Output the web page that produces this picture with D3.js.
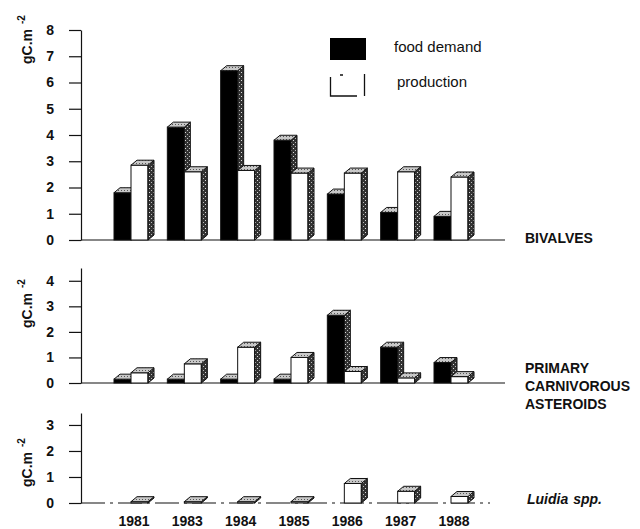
<!DOCTYPE html>
<html lang="en">
<head>
<meta charset="UTF-8" />
<title>Food demand and production</title>
<style>
  body { margin: 0; background: #fff; }
  svg text { font-family: "Liberation Sans", Arial, sans-serif; fill: #111; }
  .axis text { font-size: 14px; font-weight: bold; }
  .axis path, .axis line { stroke: #111; stroke-width: 1.2; }
</style>
</head>
<body>
<div class="chart"></div>
<script src="https://d3js.org/d3.v7.min.js"></script>
<script>
// data (gC.m-2)
const years = ['1981', '1983', '1984', '1985', '1986', '1987', '1988']
const bivalvesDemand = [1.8, 4.3, 6.45, 3.8, 1.75, 1.05, 0.9]
const bivalvesProduction = [2.85, 2.6, 2.65, 2.55, 2.55, 2.6, 2.4]
const asteroidsDemand = [0.15, 0.15, 0.15, 0.15, 2.65, 1.4, 0.8]
const asteroidsProduction = [0.4, 0.75, 1.4, 1.0, 0.45, 0.2, 0.25]
const luidiaDemand = [0, 0, 0, 0, 0, 0, 0]
const luidiaProduction = [0.05, 0.05, 0.05, 0.05, 0.75, 0.45, 0.25]
const bivalvesTicks = [0, 1, 2, 3, 4, 5, 6, 7, 8]
const asteroidsTicks = [0, 1, 2, 3, 4]
const luidiaTicks = [0, 1, 2, 3]
const seriesNames = ['food demand', 'production']

const width = 640, height = 529
const axisX = 81
const dx = 6, dy = 5

const svg = d3.select('.chart').append('svg')
  .attr('width', width).attr('height', height)

// speckled texture for the side faces
const defs = svg.append('defs')
const pat = defs.append('pattern').attr('id', 'speckle')
  .attr('width', 4).attr('height', 4).attr('patternUnits', 'userSpaceOnUse')
pat.append('rect').attr('width', 4).attr('height', 4).attr('fill', '#333')
pat.append('rect').attr('x', 1).attr('y', 0).attr('width', 1).attr('height', 1).attr('fill', '#ddd')
pat.append('rect').attr('x', 3).attr('y', 2).attr('width', 1).attr('height', 1).attr('fill', '#bbb')
const pat2 = defs.append('pattern').attr('id', 'speckleTop')
  .attr('width', 3).attr('height', 3).attr('patternUnits', 'userSpaceOnUse')
pat2.append('rect').attr('width', 3).attr('height', 3).attr('fill', '#c8c8c8')
pat2.append('rect').attr('x', 1).attr('y', 1).attr('width', 1).attr('height', 1).attr('fill', '#555')

// x positions (group centres) shared by the three panels
const x = d3.scalePoint().domain(years).range([131, 451])
const xs = d3.scaleBand().domain(seriesNames).range([-17, 17])

const panels = [
  { demand: bivalvesDemand, production: bivalvesProduction, ticks: bivalvesTicks,
    domain: [0, 8], range: [240, 30], titleY: 64, lineEnd: 505, dashed: false },
  { demand: asteroidsDemand, production: asteroidsProduction, ticks: asteroidsTicks,
    domain: [0, 4.5], range: [383, 268], titleY: 328, lineEnd: 505, dashed: false },
  { demand: luidiaDemand, production: luidiaProduction, ticks: luidiaTicks,
    domain: [0, 3.46], range: [503, 413], titleY: 487, lineEnd: 490, dashed: true }
]

const bar3d = (g, x0, w, base, top, front) => {
  g.append('rect')
    .attr('x', x0).attr('y', top).attr('width', w).attr('height', base - top)
    .attr('fill', front).attr('stroke', '#111').attr('stroke-width', 1)
  g.append('path')
    .attr('d', `M${x0 + w},${top}L${x0 + w + dx},${top - dy}L${x0 + w + dx},${base - dy}L${x0 + w},${base}Z`)
    .attr('fill', 'url(#speckle)').attr('stroke', '#111').attr('stroke-width', 1)
  g.append('path')
    .attr('d', `M${x0},${top}L${x0 + dx},${top - dy}L${x0 + w + dx},${top - dy}L${x0 + w},${top}Z`)
    .attr('fill', 'url(#speckleTop)').attr('stroke', '#111').attr('stroke-width', 1)
}

panels.forEach(p => {
  const y = d3.scaleLinear().domain(p.domain).range(p.range)
  const g = svg.append('g')

  // baseline
  g.append('line')
    .attr('x1', axisX).attr('x2', p.lineEnd)
    .attr('y1', y(0)).attr('y2', y(0))
    .attr('stroke', '#111').attr('stroke-width', 1.2)
    .attr('stroke-dasharray', p.dashed ? '24,5,3,5' : null)

  // y axis
  g.append('g').attr('class', 'axis')
    .attr('transform', `translate(${axisX},0)`)
    .call(d3.axisLeft(y).tickValues(p.ticks).tickSize(12).tickSizeOuter(0).tickPadding(15).tickFormat(d3.format('d')))

  // y title
  const t = g.append('text')
    .attr('transform', `translate(32,${p.titleY}) rotate(-90)`)
    .style('font-size', '14px').style('font-weight', 'bold')
  t.append('tspan').text('gC.m')
  t.append('tspan').attr('dx', 5).attr('dy', -7).style('font-size', '10px').text('-2')

  // bars
  years.forEach((yr, i) => {
    const bg = g.append('g')
    const dv = p.demand[i], pv = p.production[i]
    if (dv > 0) bar3d(bg, x(yr) + xs('food demand'), xs.bandwidth(), y(0), y(dv), '#000')
    if (pv > 0) bar3d(bg, x(yr) + xs('production'), xs.bandwidth(), y(0), y(pv), '#fff')
  })
})

// year labels
svg.append('g').selectAll('text').data(years).join('text')
  .attr('x', d => x(d) + 3).attr('y', 526)
  .attr('text-anchor', 'middle')
  .style('font-size', '14px').style('font-weight', 'bold')
  .text(d => d)

// group labels on the right
const labels = svg.append('g').style('font-size', '14px').style('font-weight', 'bold')
labels.append('text').attr('x', 525).attr('y', 243).text('BIVALVES')
labels.append('text').attr('x', 525).attr('y', 373).text('PRIMARY')
labels.append('text').attr('x', 525).attr('y', 391).text('CARNIVOROUS')
labels.append('text').attr('x', 525).attr('y', 409).text('ASTEROIDS')
const lu = svg.append('text').attr('x', 527).attr('y', 504)
  .style('font-size', '14px').style('font-style', 'italic').style('font-weight', 'bold')
lu.append('tspan').text('Luidia')
lu.append('tspan').attr('dx', 5).text('spp.')

// legend
const legend = svg.append('g')
legend.append('rect').attr('x', 330).attr('y', 38).attr('width', 36).attr('height', 22).attr('fill', '#000')
legend.append('text').attr('x', 394).attr('y', 52).style('font-size', '15px').text(seriesNames[0])
legend.append('path')
  .attr('d', 'M330.5,77V96H357M364.5,74V96M340,75H343')
  .attr('fill', 'none').attr('stroke', '#111').attr('stroke-width', 1.3)
legend.append('text').attr('x', 397).attr('y', 87).style('font-size', '15px').text(seriesNames[1])
</script>
</body>
</html>
